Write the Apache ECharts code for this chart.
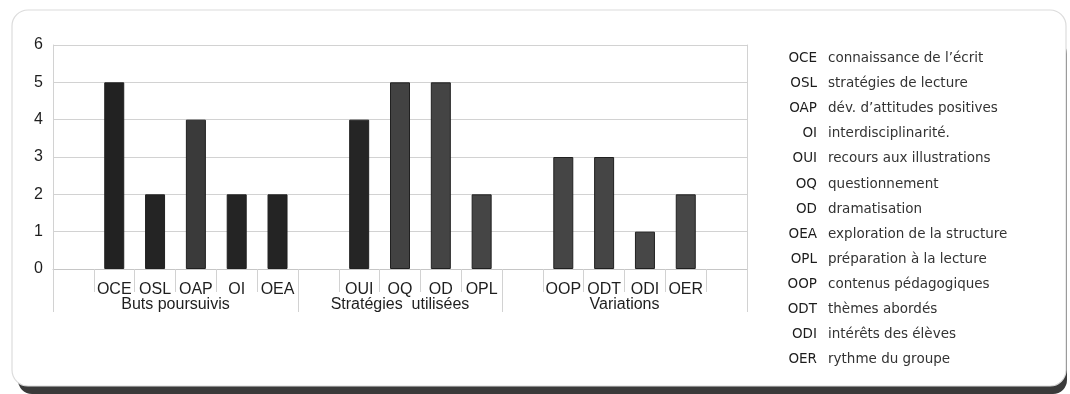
<!DOCTYPE html>
<html>
<head>
<meta charset="utf-8">
<script src="https://cdn.jsdelivr.net/npm/echarts@6/dist/echarts.min.js"></script>
<style>
  html, body { margin: 0; padding: 0; background: #ffffff; }
  #chart { width: 1070px; height: 394px; }
</style>
</head>
<body>
<div id="chart"></div>
<script>
// Category slots: empty strings are spacer slots separating the three groups
const categories = ['', 'OCE', 'OSL', 'OAP', 'OI', 'OEA', '', 'OUI', 'OQ', 'OD', 'OPL', '', 'OOP', 'ODT', 'ODI', 'OER', ''];
const values = [null, 5, 2, 4, 2, 2, null, 4, 5, 5, 2, null, 3, 3, 1, 2, null];
const groupNames = ['Buts poursuivis', 'Stratégies  utilisées', 'Variations'];
const yTicks = [0, 1, 2, 3, 4, 5, 6];

// Key shown beside the chart
const keyCodes = ['OCE', 'OSL', 'OAP', 'OI', 'OUI', 'OQ', 'OD', 'OEA', 'OPL', 'OOP', 'ODT', 'ODI', 'OER'];
const keyLabels = [
  'connaissance de l\u2019écrit',
  'stratégies de lecture',
  'dév. d\u2019attitudes positives',
  'interdisciplinarité.',
  'recours aux illustrations',
  'questionnement',
  'dramatisation',
  'exploration de la structure',
  'préparation à la lecture',
  'contenus pédagogiques',
  'thèmes abordés',
  'intérêts des élèves',
  'rythme du groupe'
];

// Bar shades
const shades = {
  OCE: '#222222', OSL: '#242424', OAP: '#3a3a3a', OI: '#242424', OEA: '#242424',
  OUI: '#252525', OQ: '#424242', OD: '#444444', OPL: '#454545',
  OOP: '#454545', ODT: '#454545', ODI: '#474747', OER: '#474747'
};

// Group spans derived from spacer slots: a group starts at each spacer followed by a code
const groupStarts = [];
categories.forEach((c, i) => {
  if (c === '' && i + 1 < categories.length && categories[i + 1] !== '') groupStarts.push(i);
});
const groupBounds = groupStarts.concat([categories.length]);
const groupCenters = groupStarts.map((s, i) => (s + groupBounds[i + 1]) / 2);

const FONT = '"Liberation Sans", Arial, sans-serif';
const KEY_FONT = '13.5px "DejaVu Sans", sans-serif';
const GRID_COLOR = '#d2d2d2';
const KEY_LINE = 25.1;

const chart = echarts.init(document.getElementById('chart'), null, { renderer: 'canvas' });

chart.setOption({
  backgroundColor: '#ffffff',
  animation: false,
  graphic: [
    {
      type: 'rect', z: -10, silent: true,
      shape: { x: 18, y: 40, width: 1049, height: 354, r: 14 },
      style: { fill: '#3a3a3a' }
    },
    {
      type: 'rect', z: -9, silent: true,
      shape: { x: 12, y: 10, width: 1054, height: 376, r: 16 },
      style: { fill: '#ffffff', stroke: '#dcdcdc', lineWidth: 1.2 }
    },
    {
      // key: codes, right-aligned column
      type: 'text', z: 5, silent: true,
      x: 817, y: 46,
      style: {
        text: keyCodes.join('\n'),
        align: 'right',
        verticalAlign: 'top',
        font: KEY_FONT,
        lineHeight: KEY_LINE,
        fill: '#1c1c1c'
      }
    },
    {
      // key: descriptions, left-aligned column
      type: 'text', z: 5, silent: true,
      x: 828, y: 46,
      style: {
        text: keyLabels.join('\n'),
        align: 'left',
        verticalAlign: 'top',
        font: KEY_FONT,
        lineHeight: KEY_LINE,
        fill: '#333333'
      }
    }
  ],
  grid: { left: 53, right: 323, top: 45, bottom: 125, containLabel: false },
  xAxis: [
    {
      type: 'category',
      data: categories,
      boundaryGap: true,
      axisLine: { show: true, lineStyle: { color: '#c6c6c6', width: 1 } },
      axisTick: { show: true, interval: 0, length: 23, lineStyle: { color: GRID_COLOR, width: 1 } },
      axisLabel: { interval: 0, margin: 13, fontFamily: FONT, fontSize: 16, color: '#1e1e1e' },
      splitLine: { show: false }
    },
    {
      type: 'value',
      min: 0,
      max: categories.length,
      position: 'bottom',
      axisLine: { show: false },
      splitLine: { show: false },
      axisTick: {
        show: true,
        customValues: groupBounds,
        length: 43,
        lineStyle: { color: GRID_COLOR, width: 1 }
      },
      axisLabel: {
        show: true,
        customValues: groupCenters,
        margin: 28,
        fontFamily: FONT,
        fontSize: 16,
        color: '#1e1e1e',
        formatter: function (v) {
          const k = groupCenters.indexOf(v);
          return k >= 0 ? groupNames[k] : '';
        }
      }
    }
  ],
  yAxis: [
    {
      type: 'value',
      min: yTicks[0],
      max: yTicks[yTicks.length - 1],
      interval: 1,
      axisLine: { show: true, lineStyle: { color: GRID_COLOR, width: 1 } },
      axisTick: { show: false },
      axisLabel: { margin: 10, fontFamily: FONT, fontSize: 16, color: '#1e1e1e' },
      splitLine: { show: true, lineStyle: { color: GRID_COLOR, width: 1 } }
    },
    {
      type: 'value',
      min: yTicks[0],
      max: yTicks[yTicks.length - 1],
      interval: 1,
      position: 'right',
      axisLine: { show: true, lineStyle: { color: GRID_COLOR, width: 1 } },
      axisTick: { show: false },
      axisLabel: { show: false },
      splitLine: { show: false }
    }
  ],
  series: [
    {
      type: 'bar',
      xAxisIndex: 0,
      yAxisIndex: 0,
      barWidth: 20,
      data: values.map((v, i) => ({
        value: v,
        itemStyle: {
          color: shades[categories[i]] || '#333333',
          borderColor: '#202020',
          borderWidth: 1
        }
      }))
    }
  ]
});
</script>
</body>
</html>
